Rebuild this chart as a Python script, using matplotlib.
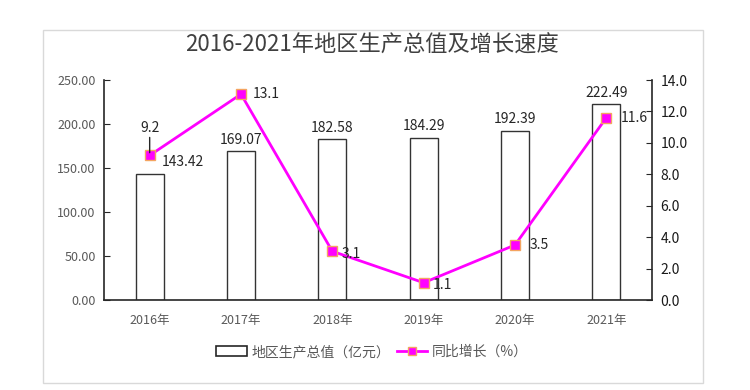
import matplotlib.pyplot as plt
from matplotlib.patches import Rectangle
from matplotlib.lines import Line2D
from matplotlib.patches import Patch

plt.rcParams['font.family'] = ['Noto Sans CJK SC', 'DejaVu Sans']

years = ['2016年', '2017年', '2018年', '2019年', '2020年', '2021年']
gdp = [143.42, 169.07, 182.58, 184.29, 192.39, 222.49]
growth = [9.2, 13.1, 3.1, 1.1, 3.5, 11.6]
left_ticks = [0, 50, 100, 150, 200, 250]
right_ticks = [0, 2, 4, 6, 8, 10, 12, 14]

fig = plt.figure(figsize=(7.5, 3.9), dpi=100)
W, H = 750, 390
fig.patches.append(Rectangle((43 / W, 1 - 383 / H), 660 / W, 353 / H, transform=fig.transFigure,
                             fill=False, edgecolor='#d9d9d9', linewidth=1.0))

ax = fig.add_axes([104 / W, 1 - 300 / H, 548 / W, 220 / H])
x = list(range(len(years)))
ax.bar(x, gdp, width=0.31, color='white', edgecolor='#333333', linewidth=1.0, zorder=2)
ax.set_xlim(-0.5, 5.5)
ax.set_ylim(0, 250)
ax.set_yticks(left_ticks)
ax.set_yticklabels([f'{v:.2f}' for v in left_ticks], color='#595959', fontsize=9)
ax.set_xticks(x)
ax.set_xticklabels(years, color='#595959', fontsize=9)
ax.tick_params(axis='x', length=0, pad=10)
ax.tick_params(axis='y', direction='in', length=4, color='#262626', pad=6)
for s in ['top', 'right']:
    ax.spines[s].set_visible(False)
ax.spines['left'].set_color('#262626')
ax.spines['bottom'].set_color('#262626')
ax.spines['left'].set_linewidth(1.2)
ax.spines['bottom'].set_linewidth(1.2)

for i, v in enumerate(gdp):
    if i == 0:
        ax.text(i + 0.13, v + 6, f'{v:.2f}', ha='left', va='bottom', fontsize=10, color='#262626')
    else:
        ax.text(i, v + 5, f'{v:.2f}', ha='center', va='bottom', fontsize=10, color='#262626')

ax2 = ax.twinx()
ax2.set_ylim(0, 14)
ax2.set_yticks(right_ticks)
ax2.set_yticklabels([f'{v:.1f}' for v in right_ticks], color='#1a1a1a', fontsize=10)
ax2.tick_params(axis='y', direction='in', length=4, color='#262626', pad=6)
for s in ['top', 'left', 'bottom']:
    ax2.spines[s].set_visible(False)
ax2.spines['right'].set_color('#262626')
ax2.spines['right'].set_linewidth(1.2)
ax2.plot(x, growth, color='#ff00ff', linewidth=2, marker='s', markersize=6.5,
         markerfacecolor='#ff00ff', markeredgecolor='#f4a460', markeredgewidth=1, zorder=3)

for i, v in enumerate(growth):
    if i == 0:
        ax2.annotate('', xy=(i, v), xytext=(0, 18), textcoords='offset pixels',
                     arrowprops=dict(arrowstyle='-', color='#262626', lw=1, shrinkA=0, shrinkB=2),
                     zorder=4)
        ax2.annotate(f'{v}', xy=(i, v), xytext=(0, 27), textcoords='offset pixels',
                     ha='center', va='center', fontsize=10, color='#262626')
    elif i in (2, 3):
        ax2.text(i + 0.1, v - 0.15, f'{v}', ha='left', va='center', fontsize=10, color='#262626')
    elif i == 1:
        ax2.text(i + 0.13, v, f'{v}', ha='left', va='center', fontsize=10, color='#262626')
    else:
        ax2.text(i + 0.16, v, f'{v}', ha='left', va='center', fontsize=10, color='#262626')

fig.suptitle('2016-2021年地区生产总值及增长速度', x=372 / W, y=1 - 45 / H, va='center',
             fontsize=16, color='#404040')

handles = [Patch(facecolor='white', edgecolor='#262626', linewidth=1.2),
           Line2D([0], [0], color='#ff00ff', linewidth=2, marker='s', markersize=6,
                  markerfacecolor='#ff00ff', markeredgecolor='#f4a460')]
fig.legend(handles, ['地区生产总值（亿元）', '同比增长（%）'], loc='center', ncol=2,
           bbox_to_anchor=(372 / W, 1 - 352 / H), frameon=False, fontsize=10,
           labelcolor='#595959', handlelength=2.2, columnspacing=0.5, handletextpad=0.3)

fig.savefig('out.png', dpi=100)
